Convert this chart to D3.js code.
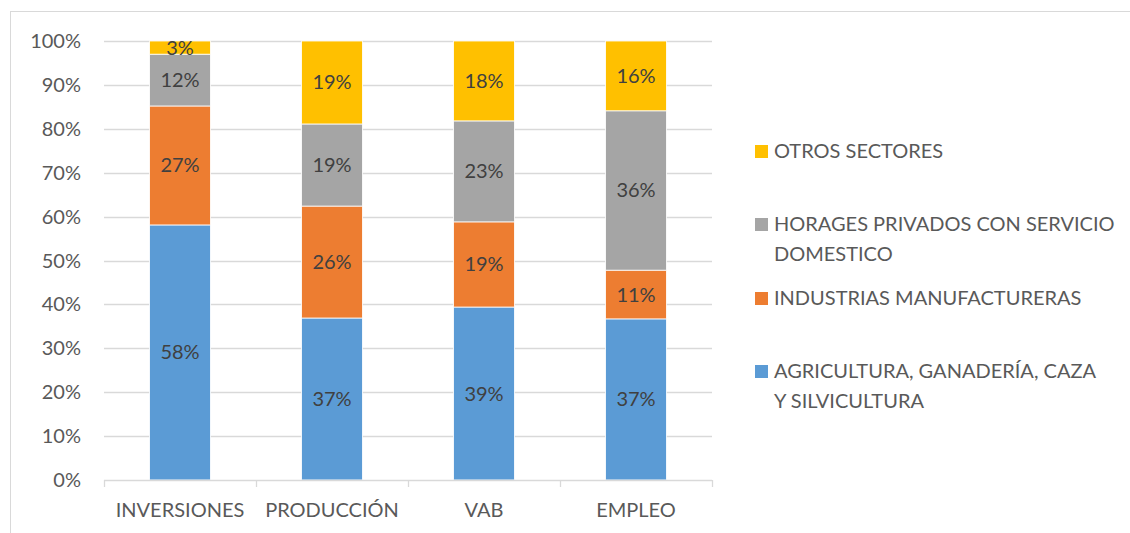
<!DOCTYPE html>
<html>
<head>
<meta charset="utf-8">
<script src="https://cdn.jsdelivr.net/npm/d3@7"></script>
<style>
  body { margin: 0; background: #fff; }
  svg { display: block; font-family: Lato, "Open Sans", sans-serif; }
</style>
</head>
<body>
<svg width="1130" height="533"></svg>
<script>
const categories = ["INVERSIONES", "PRODUCCIÓN", "VAB", "EMPLEO"]
const seriesNames = ["AGRICULTURA, GANADERÍA, CAZA Y SILVICULTURA", "INDUSTRIAS MANUFACTURERAS", "HORAGES PRIVADOS CON SERVICIO DOMESTICO", "OTROS SECTORES"]
const agricultura = [58.1, 36.9, 39.4, 36.7]
const industrias = [27.1, 25.5, 19.4, 11.1]
const hogares = [11.8, 18.7, 23.0, 36.3]
const otros = [3.0, 18.9, 18.2, 15.9]
const yTicks = [0, 0.1, 0.2, 0.3, 0.4, 0.5, 0.6, 0.7, 0.8, 0.9, 1]
const colors = ["#5B9BD5", "#ED7D31", "#A5A5A5", "#FFC000"]

var svg = d3.select("svg"),
  margin = {top: 41, left: 104},
  width = 608,
  height = 439,
  g = svg.append("g").attr("transform", "translate(" + margin.left + "," + margin.top + ")");

// chart frame
svg.append("rect").attr("x", 10.5).attr("y", 11.5).attr("width", 1130).attr("height", 540)
  .attr("fill", "none").attr("stroke", "#d9d9d9");

var x = d3.scaleBand().domain(categories).range([0, width]).paddingInner(0.6).paddingOuter(0.3);
var y = d3.scaleLinear().domain([0, 1]).range([height, 0]);

// gridlines
g.selectAll(".grid").data(yTicks.slice(1)).enter().append("line")
  .attr("x1", 0).attr("x2", width)
  .attr("y1", d => Math.round(y(d)) + 0.5).attr("y2", d => Math.round(y(d)) + 0.5)
  .attr("stroke", "#d9d9d9").attr("stroke-width", 1.3);

// y labels
g.selectAll(".ylab").data(yTicks).enter().append("text")
  .attr("x", -23).attr("y", d => y(d)).attr("dy", "0.35em")
  .attr("text-anchor", "end").attr("fill", "#595959").attr("font-size", 20)
  .text(d3.format(".0%"));

const rows = categories.map((c, i) => ({cat: c, s0: agricultura[i], s1: industrias[i], s2: hogares[i], s3: otros[i]}))
const stack = d3.stack().keys(["s0", "s1", "s2", "s3"]).offset(d3.stackOffsetExpand)
const layers = stack(rows)

const layer = g.selectAll(".layer").data(layers).enter().append("g")
  .attr("fill", (d, i) => colors[i]);

layer.selectAll("rect").data(d => d).enter().append("rect")
  .attr("x", d => x(d.data.cat))
  .attr("width", x.bandwidth())
  .attr("y", d => y(d[1]))
  .attr("height", d => y(d[0]) - y(d[1]))
  .attr("stroke", "#fff").attr("stroke-width", 0.8);

layers.forEach((l, i) => {
  g.selectAll(".lab" + i).data(l).enter().append("text")
    .attr("x", d => x(d.data.cat) + x.bandwidth() / 2)
    .attr("y", d => (y(d[0]) + y(d[1])) / 2)
    .attr("dy", "0.35em").attr("text-anchor", "middle")
    .attr("fill", "#404040").attr("font-size", 20)
    .text(d => Math.round((d[1] - d[0]) * 100) + "%");
});

// x axis
g.append("line").attr("x1", 0).attr("x2", width).attr("y1", height + 0.5).attr("y2", height + 0.5)
  .attr("stroke", "#d9d9d9").attr("stroke-width", 1.3);
const edges = categories.map(c => x(c) - x.step() * x.paddingInner() / 2).concat([width])
g.selectAll(".xtick").data(edges).enter().append("line")
  .attr("x1", d => Math.round(d) + 0.5).attr("x2", d => Math.round(d) + 0.5)
  .attr("y1", height).attr("y2", height + 7)
  .attr("stroke", "#d9d9d9").attr("stroke-width", 1.3);
g.selectAll(".xlab").data(categories).enter().append("text")
  .attr("x", d => x(d) + x.bandwidth() / 2).attr("y", height + 37)
  .attr("text-anchor", "middle").attr("fill", "#595959").attr("font-size", 20)
  .text(d => d);

// legend
const legendItems = [
  {i: 3, lines: ["OTROS SECTORES"], y: 151},
  {i: 2, lines: ["HORAGES PRIVADOS CON SERVICIO", "DOMESTICO"], y: 224},
  {i: 1, lines: ["INDUSTRIAS MANUFACTURERAS"], y: 298},
  {i: 0, lines: ["AGRICULTURA, GANADERÍA, CAZA", "Y SILVICULTURA"], y: 371}
]
const lg = svg.append("g")
legendItems.forEach(it => {
  lg.append("rect").attr("x", 755).attr("y", it.y - 6).attr("width", 13).attr("height", 13).attr("fill", colors[it.i]);
  const t = lg.append("text").attr("x", 774).attr("y", it.y)
    .attr("fill", "#595959").attr("font-size", 20);
  it.lines.forEach((ln, k) => {
    t.append("tspan").attr("x", 774).attr("dy", k === 0 ? "0.35em" : 29.5).text(ln);
  });
});
</script>
</body>
</html>
